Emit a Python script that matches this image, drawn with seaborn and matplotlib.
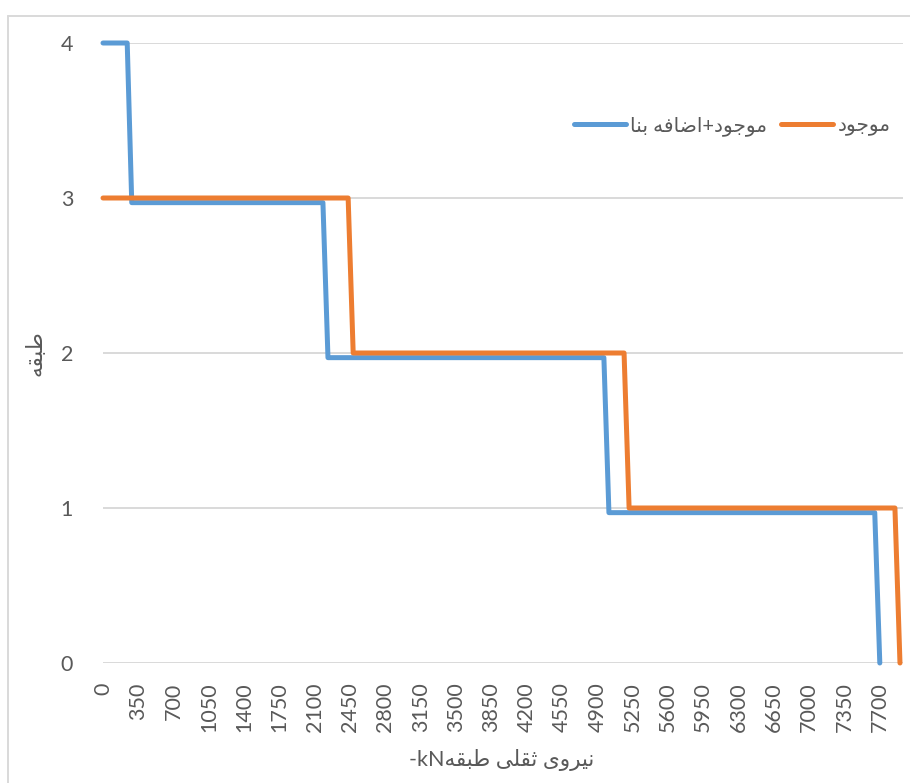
import matplotlib
matplotlib.use("Agg")
import matplotlib.pyplot as plt
from matplotlib.lines import Line2D
import pandas as pd
import seaborn as sns

# Storey gravity force (kN) vs storey level, drawn as stepped profiles
series_names = ["موجود+اضافه بنا", "موجود"]
added_force = [0, 240, 285, 2180, 2230, 4965, 5015, 7650, 7700]
added_level = [4, 4, 2.97, 2.97, 1.97, 1.97, 0.97, 0.97, 0]
existing_force = [0, 2430, 2480, 5165, 5215, 7850, 7900]
existing_level = [3, 3, 2, 2, 1, 1, 0]
x_ticks = list(range(0, 7701, 350))
y_ticks = [0, 1, 2, 3, 4]
x_title = "نیروی ثقلی طبقه"
x_unit = "kN"
y_title = "طبقه"

colors = ["#5B9BD5", "#ED7D31"]
grey_text = "#595959"
grid_grey = "#D9D9D9"

# Minimal Arabic-script shaping: contextual presentation forms + visual order
FORMS = {
    "ا": ("\uFE8D", "\uFE8E"),
    "د": ("\uFEA9", "\uFEAA"),
    "ر": ("\uFEAD", "\uFEAE"),
    "و": ("\uFEED", "\uFEEE"),
    "ب": ("\uFE8F", "\uFE90", "\uFE91", "\uFE92"),
    "ث": ("\uFE99", "\uFE9A", "\uFE9B", "\uFE9C"),
    "ج": ("\uFE9D", "\uFE9E", "\uFE9F", "\uFEA0"),
    "ض": ("\uFEBD", "\uFEBE", "\uFEBF", "\uFEC0"),
    "ط": ("\uFEC1", "\uFEC2", "\uFEC3", "\uFEC4"),
    "ف": ("\uFED1", "\uFED2", "\uFED3", "\uFED4"),
    "ق": ("\uFED5", "\uFED6", "\uFED7", "\uFED8"),
    "ل": ("\uFEDD", "\uFEDE", "\uFEDF", "\uFEE0"),
    "م": ("\uFEE1", "\uFEE2", "\uFEE3", "\uFEE4"),
    "ن": ("\uFEE5", "\uFEE6", "\uFEE7", "\uFEE8"),
    "ه": ("\uFEE9", "\uFEEA", "\uFEEB", "\uFEEC"),
    "ی": ("\uFBFC", "\uFBFD", "\uFBFE", "\uFBFF"),
}


def _joins_after(ch):
    return ch in FORMS and len(FORMS[ch]) == 4


def rtl(text):
    glyphs = []
    for i, ch in enumerate(text):
        forms = FORMS.get(ch)
        if forms is None:
            glyphs.append(ch)
            continue
        prev_j = i > 0 and _joins_after(text[i - 1])
        next_j = len(forms) == 4 and i + 1 < len(text) and text[i + 1] in FORMS
        idx = 3 if (prev_j and next_j) else 1 if prev_j else 2 if next_j else 0
        glyphs.append(forms[idx])
    return "".join(reversed(glyphs))


sns.set_style("white")
plt.rcParams["font.family"] = ["Lato", "DejaVu Sans"]

df = pd.concat([
    pd.DataFrame({"force": added_force, "level": added_level, "series": series_names[0]}),
    pd.DataFrame({"force": existing_force, "level": existing_level, "series": series_names[1]}),
], ignore_index=True)

fig = plt.figure(figsize=(9.1, 7.83), dpi=100)
ax = fig.add_axes([103 / 910, 120 / 783, 800 / 910, 620 / 783])

for i, name in enumerate(series_names):
    sub = df[df["series"] == name]
    sns.lineplot(data=sub, x="force", y="level", sort=False, estimator=None,
                 color=colors[i], linewidth=3.6, ax=ax, label=rtl(name),
                 zorder=3 + i)

for line in ax.lines:
    line.set_clip_on(False)
    line.set_solid_capstyle("round")
    line.set_solid_joinstyle("round")

ax.set_xlim(0, 7930)
ax.set_ylim(0, 4)
ax.set_xticks(x_ticks)
ax.set_yticks(y_ticks)
ax.set_xticklabels([str(v) for v in x_ticks], rotation=90)
ax.tick_params(axis="x", length=0, pad=14.0, labelsize=15.5, colors=grey_text)
ax.tick_params(axis="y", length=0, pad=21.5, labelsize=15.5, colors=grey_text)
ax.set_xlabel("")
ax.set_ylabel("")
for s in ax.spines.values():
    s.set_visible(False)
ax.yaxis.grid(True, color=grid_grey, linewidth=1.4)
ax.xaxis.grid(False)
ax.set_axisbelow(True)

handles, labels = ax.get_legend_handles_labels()
leg = ax.legend(handles, labels, loc="center", ncol=2,
                bbox_to_anchor=(732 / 910, 1 - 126 / 783),
                bbox_transform=fig.transFigure, frameon=False, fontsize=14.5,
                handlelength=2.6, handletextpad=0.2, columnspacing=0.7)
for t in leg.get_texts():
    t.set_color(grey_text)
for h in leg.get_lines():
    h.set_linewidth(3.6)
    h.set_solid_capstyle("round")

fig.text(502 / 910, 1 - 760 / 783, "-" + x_unit + rtl(x_title),
         ha="center", va="center", fontsize=15.5, color=grey_text)
fig.text(35 / 910, 1 - 353 / 783, rtl(y_title), rotation=90,
         ha="center", va="center", fontsize=15.5, color=grey_text)

# chart-area frame
fig.add_artist(Line2D([8 / 910, 8 / 910], [0, 1 - 16 / 783],
                      transform=fig.transFigure, color=grid_grey, linewidth=1.4))
fig.add_artist(Line2D([8 / 910, 1.0], [1 - 16 / 783, 1 - 16 / 783],
                      transform=fig.transFigure, color=grid_grey, linewidth=1.4))

fig.savefig("out.png", dpi=100, facecolor="white")
